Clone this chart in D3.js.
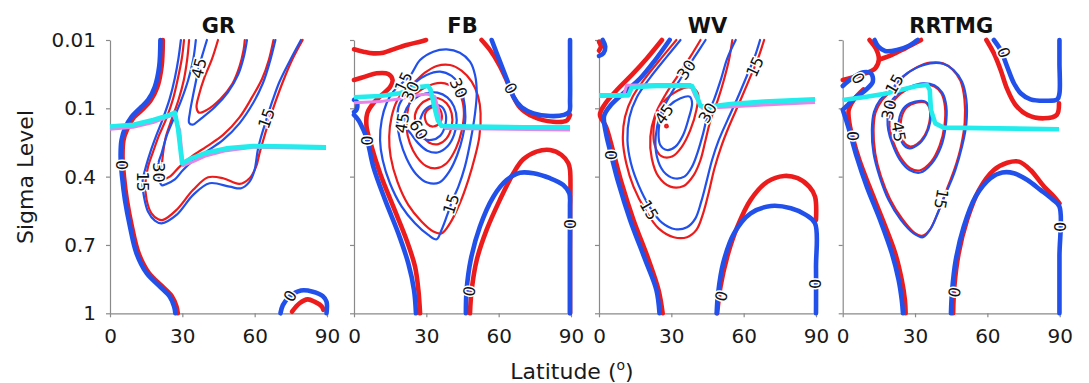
<!DOCTYPE html>
<html>
<head>
<meta charset="utf-8">
<script src="https://cdn.jsdelivr.net/npm/d3@7"></script>
<style>
  body { margin: 0; background: #fff; }
  svg text { font-family: "DejaVu Sans", Verdana, sans-serif; }
</style>
</head>
<body>
<svg id="chart" width="1089" height="383"></svg>
<script>
// Zonal-mean wind contours (m/s) on latitude / sigma, four radiation schemes.
// Run A = red contours + magenta tropopause, run B = blue contours + cyan tropopause.
const panelNames = ["GR", "FB", "WV", "RRTMG"];
const sigmaTicks = [0.01, 0.1, 0.4, 0.7, 1];
const latTicks = [0, 30, 60, 90];

// ---------- GR ----------
const grA0a = [[21.9,0.010],[21.4,0.045],[19.6,0.0724],[16.8,0.090],[13.5,0.105],[9.9,0.140],[7.2,0.190],[5.6,0.239],[5.2,0.312],[5.8,0.400],[7.0,0.502],[9.1,0.620],[11.9,0.737],[16.0,0.821],[21.5,0.880],[25.6,0.924],[27.6,0.971],[28.1,1.0]];
const grB0a = [[20.9,0.010],[20.4,0.045],[18.6,0.0715],[15.8,0.089],[12.4,0.100],[9.0,0.137],[6.2,0.188],[4.8,0.239],[4.4,0.312],[5.0,0.400],[6.2,0.502],[8.3,0.620],[11.0,0.737],[15.2,0.824],[20.7,0.883],[24.8,0.927],[26.6,0.971],[27.1,1.0]];
const grA0b = [[75.5,0.993],[78.6,0.956],[82.0,0.939],[84.8,0.949],[87.9,0.971],[88.5,0.985]];
const grB0b = [[70.7,1.0],[71.7,0.964],[74.4,0.927],[79.2,0.900],[84.1,0.905],[88.2,0.924],[89.8,0.949],[89.8,1.0]];
const grA15 = [[30.7,0.010],[29.8,0.034],[28.2,0.060],[26.2,0.087],[23.4,0.144],[20.4,0.217],[17.9,0.290],[15.8,0.356],[14.7,0.429],[15.2,0.502],[17.2,0.561],[20.0,0.587],[22.0,0.590],[27.6,0.546],[34.5,0.458],[40.7,0.403],[46.9,0.407],[53.7,0.432],[57.9,0.407],[60.6,0.356],[62.0,0.298],[63.4,0.246],[65.0,0.188],[66.8,0.129],[68.9,0.089],[71.7,0.065],[75.5,0.0364],[79.9,0.010]];
const grB15 = [[29.4,0.010],[28.4,0.034],[26.9,0.060],[24.8,0.087],[22.0,0.144],[19.3,0.217],[16.8,0.290],[14.9,0.356],[13.5,0.422],[14.1,0.488],[15.8,0.554],[18.6,0.593],[21.4,0.605],[27.6,0.568],[34.5,0.480],[41.3,0.429],[49.6,0.444],[54.4,0.451],[57.9,0.422],[59.9,0.373],[61.3,0.283],[62.7,0.224],[64.4,0.165],[65.9,0.115],[67.5,0.089],[70.3,0.065],[74.4,0.0385],[79.2,0.010]];
const grA30 = [[32.8,0.010],[32.0,0.036],[30.6,0.063],[28.4,0.089],[25.5,0.151],[23.2,0.224],[22.0,0.298],[21.5,0.356],[21.5,0.393],[22.3,0.409],[24.8,0.400],[28.9,0.356],[33.8,0.312],[40.0,0.268],[46.9,0.217],[53.7,0.140],[59.0,0.085],[63.1,0.061],[65.9,0.036],[67.8,0.010]];
const grB30 = [[35.6,0.010],[34.5,0.036],[32.4,0.063],[29.6,0.089],[26.2,0.151],[23.4,0.224],[21.4,0.298],[20.1,0.341],[20.4,0.415],[21.5,0.438],[23.4,0.432],[26.9,0.412],[30.3,0.371],[34.5,0.330],[40.0,0.290],[46.9,0.239],[53.7,0.166],[59.3,0.0934],[63.4,0.067],[66.1,0.041],[68.6,0.010]];
const grA45 = [[44.8,0.010],[42.2,0.036],[39.1,0.060],[36.9,0.0825],[35.9,0.0987],[36.9,0.119],[40.2,0.107],[45.7,0.088],[50.7,0.068],[53.7,0.045],[55.4,0.023],[55.9,0.010]];
const grB45 = [[40.2,0.010],[38.3,0.030],[36.8,0.047],[35.6,0.065],[34.2,0.087],[33.1,0.122],[32.8,0.163],[34.2,0.172],[37.9,0.144],[43.4,0.0987],[48.9,0.079],[53.1,0.056],[55.5,0.032],[56.8,0.010]];
const grTropA = [[0,0.192],[9.6,0.183],[17.9,0.163],[26.2,0.129],[28.9,0.195],[30.3,0.352],[34.5,0.334],[40.0,0.308],[48.2,0.286],[59.3,0.271],[89.6,0.277]];
const grTropB = [[0,0.180],[9.6,0.172],[17.9,0.151],[23.4,0.134],[26.9,0.119],[28.2,0.188],[29.9,0.341],[33.8,0.320],[40.0,0.295],[48.2,0.276],[59.3,0.266],[75.8,0.268],[89.6,0.271]];
const grLabels = [["0",5.0,0.349,90],["15",13.5,0.422,90],["30",20.3,0.382,90],["45",36.8,0.047,-75],["15",64.8,0.144,-70],["0",74.7,0.924,-60]];

// ---------- FB ----------
const fbA0a = [[0,0.0223],[3.9,0.0254],[8.0,0.0276],[12.2,0.0267],[16.3,0.0223],[21.8,0.0166],[27.4,0.0122],[29.9,0.010]];
const fbA0b = [[0,0.0627],[4.6,0.0583],[9.4,0.0539],[14.2,0.0548],[16.0,0.0627],[14.9,0.0723],[11.5,0.0824],[8.0,0.0934],[5.5,0.122],[5.2,0.180],[6.9,0.254],[10.8,0.385],[16.3,0.532],[21.8,0.678],[25.3,0.795],[26.7,0.898],[27.4,1.0]];
const fbA0c = [[52.9,0.010],[56.4,0.0232],[60.3,0.043],[63.3,0.063],[65.8,0.0825],[68.8,0.0987],[74.4,0.137],[82.6,0.159],[88.2,0.154],[89.6,0.129]];
const fbA0d = [[48.1,1.0],[48.8,0.898],[50.9,0.766],[55.0,0.634],[60.5,0.502],[66.1,0.385],[70.2,0.324],[75.7,0.290],[81.3,0.283],[86.1,0.305],[88.9,0.341],[89.6,0.371],[89.6,0.6],[89.6,1.0]];
const fbB0a = [[0,0.089],[1.1,0.0912],[1.4,0.098],[0.8,0.110],[0,0.116]];
const fbB0b = [[0,0.129],[1.8,0.151],[3.9,0.195],[5.5,0.239],[8.0,0.356],[12.9,0.502],[18.4,0.649],[22.5,0.780],[24.9,0.898],[25.7,1.0]];
const fbB0c = [[57.1,0.010],[59.2,0.0276],[61.9,0.0495],[64.0,0.067],[66.1,0.0846],[69.5,0.0987],[74.4,0.122],[81.3,0.134],[87.1,0.129],[89.3,0.115],[89.6,0.089],[89.6,0.04],[89.6,0.010]];
const fbB0d = [[46.4,1.0],[46.7,0.898],[48.4,0.766],[52.2,0.620],[57.8,0.488],[63.3,0.415],[68.8,0.383],[74.4,0.385],[81.3,0.407],[86.8,0.437],[89.3,0.473],[89.6,0.532],[89.6,0.75],[89.6,1.0]];
const fbA15 = [[25.3,0.0649],[29.4,0.053],[34.3,0.0442],[39.8,0.0429],[44.6,0.0504],[48.8,0.0649],[51.5,0.0846],[52.5,0.122],[52.0,0.224],[50.2,0.312],[47.4,0.415],[43.9,0.517],[39.8,0.605],[36.3,0.649],[32.9,0.641],[28.1,0.598],[22.5,0.524],[18.0,0.422],[15.2,0.312],[14.6,0.224],[15.6,0.137],[18.0,0.089],[21.6,0.0736]];
const fbB15 = [[19.8,0.0671],[23.5,0.0561],[27.4,0.0364],[32.9,0.0254],[38.4,0.0223],[43.9,0.0267],[48.1,0.0385],[50.2,0.0561],[50.9,0.0802],[50.2,0.122],[48.4,0.239],[46.0,0.356],[43.3,0.444],[40.9,0.502],[38.4,0.576],[36.3,0.634],[34.3,0.675],[30.8,0.656],[25.3,0.605],[19.8,0.532],[14.9,0.429],[11.9,0.327],[10.8,0.239],[11.5,0.151],[13.5,0.0934],[16.3,0.078]];
const fbA30 = [[23.9,0.0868],[28.1,0.0750],[32.9,0.0680],[37.7,0.0671],[41.9,0.0737],[44.6,0.0868],[45.6,0.122],[44.6,0.202],[42.3,0.276],[38.4,0.341],[34.3,0.363],[29.9,0.353],[26.0,0.312],[23.2,0.254],[21.8,0.188],[22.1,0.122]];
const fbB30 = [[21.8,0.0793],[25.3,0.0662],[30.1,0.0561],[35.7,0.0517],[40.5,0.0574],[43.4,0.068],[45.3,0.0846],[46.2,0.137],[45.1,0.224],[42.8,0.305],[39.5,0.378],[35.4,0.426],[30.4,0.426],[25.7,0.388],[21.8,0.320],[19.1,0.239],[18.0,0.166],[18.5,0.0978],[20.2,0.0868]];
const fbA45 = [[25.3,0.129],[27.4,0.0956],[30.8,0.0882],[35.0,0.0868],[38.4,0.0934],[40.5,0.122],[40.5,0.180],[38.4,0.232],[35.0,0.257],[31.2,0.251],[28.1,0.217],[26.0,0.178]];
const fbB45 = [[20.5,0.151],[21.8,0.100],[25.3,0.0868],[29.9,0.0802],[34.6,0.0793],[38.7,0.0855],[41.5,0.0978],[42.6,0.151],[41.5,0.217],[38.7,0.268],[34.6,0.294],[30.4,0.286],[26.7,0.254],[23.5,0.210],[21.1,0.178]];
const fbA60 = [[29.4,0.129],[31.5,0.100],[34.6,0.0987],[36.3,0.122],[35.7,0.163],[32.9,0.180],[30.4,0.169]];
const fbB60 = [[26.7,0.202],[27.4,0.151],[29.4,0.107],[32.9,0.0956],[36.3,0.0978],[38.1,0.129],[37.7,0.180],[35.7,0.221],[32.2,0.239],[28.7,0.232]];
const fbTropA = [[0,0.0926],[10.8,0.0912],[19.1,0.0873],[26.0,0.0829],[30.4,0.0811],[33.6,0.0846],[35.0,0.107],[35.9,0.169],[38.1,0.189],[56.4,0.191],[89.6,0.195]];
const fbTropB = [[0,0.0855],[10.8,0.0837],[19.1,0.0802],[26.0,0.0723],[30.8,0.0706],[31.8,0.0759],[33.3,0.0978],[34.7,0.151],[36.3,0.178],[49.5,0.180],[70.2,0.183],[89.6,0.183]];
const fbLabels = [["0",5.2,0.242,90],["0",65.0,0.0737,60],["0",47.8,0.903,-80],["0",89.6,0.608,90],["15",20.5,0.065,-65],["30",23.4,0.0776,-65],["45",19.9,0.164,-80],["60",26.8,0.194,60],["30",43.4,0.0733,65],["15",40.2,0.520,-72]];

// ---------- WV ----------
const wvA0a = [[0,0.0123],[0.8,0.0188],[0,0.0241]];
const wvB0a = [[1.5,0.010],[2.6,0.0188],[1.8,0.0276],[0,0.031]];
const wvA0b = [[26.1,0.010],[19.9,0.034],[13.6,0.056],[7.4,0.0759],[2.5,0.0943],[0.4,0.129],[2.9,0.180],[5.7,0.283],[9.4,0.429],[14.3,0.590],[20.6,0.766],[24.7,0.898],[26.4,1.0]];
const wvB0b = [[29.3,0.010],[23.3,0.0364],[17.1,0.0605],[10.1,0.0802],[4.6,0.0969],[2.1,0.134],[2.9,0.210],[4.9,0.298],[8.1,0.429],[12.9,0.590],[19.2,0.766],[23.8,0.898],[25.1,1.0]];
const wvA0c = [[49.0,1.0],[50.4,0.883],[53.2,0.751],[57.4,0.620],[62.9,0.502],[69.9,0.422],[76.8,0.397],[82.4,0.407],[87.2,0.444],[89.6,0.488],[90,0.590]];
const wvB0c = [[48.8,1.0],[49.4,0.912],[51.5,0.780],[56.0,0.649],[62.9,0.561],[71.3,0.529],[79.6,0.539],[85.8,0.568],[89.6,0.605],[90,0.8],[90,1.0]];
const wvA15 = [[32.1,0.010],[26.1,0.0329],[19.6,0.0584],[14.0,0.0846],[10.8,0.137],[9.9,0.239],[11.3,0.341],[14.3,0.444],[19.2,0.546],[24.7,0.627],[31.0,0.666],[36.5,0.666],[40.4,0.634],[43.2,0.561],[45.6,0.466],[47.9,0.363],[50.7,0.268],[53.9,0.180],[58.1,0.0934],[62.2,0.0628],[65.7,0.0364],[68.5,0.010]];
const wvB15 = [[33.8,0.010],[27.9,0.0329],[21.3,0.0592],[15.7,0.0855],[12.6,0.140],[11.8,0.239],[13.2,0.339],[16.4,0.437],[21.0,0.532],[26.1,0.602],[31.7,0.631],[36.5,0.622],[40.0,0.583],[42.4,0.510],[44.6,0.422],[46.9,0.327],[49.7,0.239],[53.2,0.154],[57.4,0.0868],[61.3,0.0574],[64.6,0.032],[66.8,0.010]];
const wvA30 = [[42.1,0.010],[37.9,0.032],[32.6,0.0575],[27.5,0.0824],[23.3,0.129],[21.3,0.224],[21.9,0.320],[24.7,0.400],[29.6,0.444],[35.1,0.441],[39.3,0.393],[42.1,0.327],[44.2,0.239],[46.3,0.151],[49.3,0.089],[51.8,0.0627],[53.9,0.0364],[55.3,0.010]];
const wvB30 = [[44.2,0.010],[39.3,0.034],[34.4,0.0584],[29.6,0.0824],[25.4,0.129],[23.5,0.224],[24.0,0.312],[26.8,0.378],[31.0,0.407],[35.4,0.400],[38.6,0.356],[41.0,0.290],[43.2,0.210],[45.1,0.129],[47.9,0.0868],[50.7,0.0605],[53.2,0.0342],[56.7,0.010]];
const wvA45 = [[22.6,0.195],[23.8,0.122],[27.5,0.089],[32.6,0.0768],[37.9,0.0724],[41.0,0.0802],[40.4,0.107],[37.9,0.195],[34.4,0.268],[30.3,0.312],[25.7,0.309],[23.1,0.261]];
const wvB45 = [[24.7,0.210],[25.7,0.144],[29.0,0.0970],[33.8,0.0868],[37.6,0.0846],[38.6,0.0934],[37.2,0.144],[34.9,0.217],[31.7,0.268],[28.2,0.283],[25.4,0.261]];
const wvA60 = [[27.5,0.175],[28.3,0.173],[28.5,0.182],[27.6,0.183]];
const wvTropA = [[0,0.0846],[10.1,0.0837],[11.5,0.0697],[24.0,0.0688],[37.9,0.0688],[40.0,0.0846],[42.8,0.100],[51.8,0.0987],[68.5,0.0956],[89.6,0.0925]];
const wvTropB = [[0,0.0830],[12.2,0.0830],[13.6,0.0723],[24.0,0.0706],[38.6,0.0706],[40.4,0.0825],[42.1,0.0969],[46.2,0.0978],[54.6,0.0943],[68.5,0.0912],[89.6,0.0882]];
const wvLabels = [["0",5.0,0.305,90],["0",50.7,0.924,-75],["0",89.6,0.871,90],["30",36.2,0.049,-55],["30",45.0,0.120,-60],["45",27.0,0.125,-55],["15",20.8,0.546,60],["15",64.6,0.045,-65]];

// ---------- RRTMG ----------
const rrA0a = [[11.1,0.010],[13.9,0.0223],[15.0,0.0355],[13.5,0.0473],[8.6,0.0548],[3.7,0.0596],[0,0.0627]];
const rrA0b = [[15.5,0.0355],[20.4,0.0297],[25.9,0.0210],[32.5,0.010]];
const rrA0c = [[8.6,0.0750],[4.7,0.0882],[2.5,0.107],[2.8,0.166],[4.4,0.239],[6.9,0.327],[11.1,0.444],[16.6,0.590],[21.8,0.737],[24.5,0.854],[25.8,0.942],[26.1,1.0]];
const rrA0d = [[59.6,0.010],[62.7,0.0276],[65.5,0.0495],[68.2,0.0745],[71.7,0.0956],[76.6,0.129],[83.5,0.144],[88.8,0.129],[89.7,0.0934]];
const rrA0e = [[45.8,1.0],[46.3,0.883],[48.1,0.737],[51.6,0.590],[56.5,0.459],[62.7,0.371],[68.2,0.339],[73.1,0.334],[77.9,0.371],[83.5,0.444],[87.7,0.488],[89.9,0.517]];
const rrB0a = [[13.2,0.010],[14.8,0.0188],[17.6,0.0245],[22.5,0.0232],[27.3,0.0179],[31.1,0.010]];
const rrB0b = [[0,0.0706],[4.4,0.0592],[8.6,0.0526],[11.7,0.054],[12.5,0.0649],[9.3,0.0767],[4.7,0.0873],[1.7,0.0969],[0,0.107]];
const rrB0c = [[0.3,0.115],[1.4,0.151],[3.1,0.210],[5.8,0.312],[10.0,0.444],[15.5,0.590],[20.4,0.737],[23.2,0.854],[24.5,0.942],[25.0,1.0]];
const rrB0d = [[62.7,0.010],[65.5,0.0232],[68.2,0.0451],[71.0,0.067],[73.8,0.0802],[77.9,0.0882],[83.5,0.090],[89.0,0.0882],[89.9,0.0802],[89.9,0.04],[89.9,0.010]];
const rrB0e = [[44.9,1.0],[45.4,0.898],[46.9,0.766],[50.2,0.620],[55.1,0.488],[61.3,0.407],[66.2,0.382],[71.0,0.385],[76.6,0.415],[82.1,0.459],[87.0,0.500],[89.9,0.532],[89.9,0.75],[89.9,1.0]];
const rrA15 = [[21.8,0.0723],[25.5,0.0574],[30.8,0.046],[36.3,0.0399],[41.6,0.0408],[45.5,0.0487],[48.8,0.0636],[50.5,0.0882],[50.6,0.163],[49.1,0.265],[46.5,0.363],[43.6,0.444],[41.3,0.510],[39.1,0.568],[36.1,0.634],[32.9,0.660],[29.7,0.646],[24.7,0.586],[19.7,0.500],[15.8,0.397],[13.5,0.298],[12.8,0.195],[13.6,0.119],[16.2,0.090],[19.0,0.0803]];
const rrB15 = [[20.4,0.075],[24.5,0.0592],[30.1,0.0474],[36.3,0.0408],[41.9,0.0416],[46.0,0.0495],[49.5,0.0649],[51.3,0.089],[51.3,0.166],[49.5,0.268],[46.7,0.371],[44.0,0.444],[41.6,0.502],[39.4,0.561],[36.3,0.631],[33.3,0.666],[29.4,0.649],[24.1,0.590],[19.0,0.502],[15.3,0.400],[12.8,0.298],[12.1,0.195],[13.0,0.115],[15.5,0.089],[18.0,0.081]];
const rrA30 = [[19.4,0.151],[20.5,0.0943],[23.9,0.0811],[28.6,0.0723],[33.6,0.0684],[37.9,0.0711],[40.9,0.0802],[42.4,0.0978],[42.2,0.177],[40.2,0.264],[36.6,0.336],[31.9,0.373],[28.0,0.363],[24.1,0.318],[21.1,0.251],[19.6,0.195]];
const rrB30 = [[18.6,0.151],[19.7,0.0934],[23.2,0.0802],[28.0,0.0715],[33.3,0.0671],[38.0,0.0697],[41.3,0.0794],[43.0,0.0978],[42.7,0.180],[40.8,0.268],[37.0,0.341],[32.2,0.382],[27.7,0.371],[23.6,0.324],[20.5,0.254],[18.9,0.195]];
const rrA45 = [[24.1,0.195],[24.4,0.140],[26.6,0.0987],[30.5,0.0925],[34.4,0.0925],[36.1,0.105],[35.9,0.163],[34.1,0.217],[30.8,0.257],[28.0,0.268],[25.5,0.251]];
const rrB45 = [[23.2,0.195],[23.6,0.137],[25.9,0.0978],[30.1,0.0912],[34.3,0.0912],[36.3,0.100],[36.3,0.159],[34.5,0.217],[31.1,0.261],[27.7,0.276],[25.0,0.257]];
const rrTropA = [[0,0.089],[8.6,0.0855],[16.9,0.0811],[25.2,0.075],[30.8,0.0706],[35.0,0.0693],[36.1,0.0759],[36.6,0.107],[38.4,0.166],[41.9,0.185],[50.2,0.186],[64.1,0.188],[89.7,0.192]];
const rrTropB = [[0,0.089],[8.6,0.0855],[16.9,0.0811],[25.2,0.075],[30.8,0.0706],[35.0,0.0693],[36.1,0.0759],[36.6,0.107],[38.4,0.166],[41.9,0.185],[50.2,0.186],[64.1,0.188],[89.7,0.192]];
const rrLabels = [["0",6.5,0.0605,60],["0",4.2,0.222,90],["0",66.9,0.0267,70],["0",46.3,0.907,-80],["0",89.9,0.62,90],["15",21.4,0.0682,-60],["30",19.1,0.107,-78],["45",23.2,0.203,80],["15",40.9,0.498,100]];

// Contour registry: panel index, run, contour level, closed ring?, points
const contours = [
  [0,"A",0,false,grA0a],[0,"A",0,false,grA0b],[0,"A",15,false,grA15],[0,"A",30,false,grA30],[0,"A",45,false,grA45],
  [0,"B",0,false,grB0a],[0,"B",0,false,grB0b],[0,"B",15,false,grB15],[0,"B",30,false,grB30],[0,"B",45,false,grB45],
  [1,"A",0,false,fbA0a],[1,"A",0,false,fbA0b],[1,"A",0,false,fbA0c],[1,"A",0,false,fbA0d],
  [1,"A",15,true,fbA15],[1,"A",30,true,fbA30],[1,"A",45,true,fbA45],[1,"A",60,true,fbA60],
  [1,"B",0,false,fbB0a],[1,"B",0,false,fbB0b],[1,"B",0,false,fbB0c],[1,"B",0,false,fbB0d],
  [1,"B",15,true,fbB15],[1,"B",30,true,fbB30],[1,"B",45,true,fbB45],[1,"B",60,true,fbB60],
  [2,"A",0,false,wvA0a],[2,"A",0,false,wvA0b],[2,"A",0,false,wvA0c],[2,"A",15,false,wvA15],[2,"A",30,false,wvA30],[2,"A",45,true,wvA45],[2,"A",60,true,wvA60],
  [2,"B",0,false,wvB0a],[2,"B",0,false,wvB0b],[2,"B",0,false,wvB0c],[2,"B",15,false,wvB15],[2,"B",30,false,wvB30],[2,"B",45,true,wvB45],
  [3,"A",0,false,rrA0a],[3,"A",0,false,rrA0b],[3,"A",0,false,rrA0c],[3,"A",0,false,rrA0d],[3,"A",0,false,rrA0e],
  [3,"A",15,true,rrA15],[3,"A",30,true,rrA30],[3,"A",45,true,rrA45],
  [3,"B",0,false,rrB0a],[3,"B",0,false,rrB0b],[3,"B",0,false,rrB0c],[3,"B",0,false,rrB0d],[3,"B",0,false,rrB0e],
  [3,"B",15,true,rrB15],[3,"B",30,true,rrB30],[3,"B",45,true,rrB45]
];
const tropopauses = [[0,"A",grTropA],[0,"B",grTropB],[1,"A",fbTropA],[1,"B",fbTropB],[2,"A",wvTropA],[2,"B",wvTropB],[3,"A",rrTropA],[3,"B",rrTropB]];
const contourLabels = [grLabels, fbLabels, wvLabels, rrLabels];

// ---------- drawing ----------
const svg = d3.select("#chart");
const panelLeft = [110, 354, 599, 842.7];
const panelW = 217;
const plotTop = 40, plotBottom = 313.3, yTenth = 108.3;
const runColor = { A: "#ec1c1c", B: "#2150ea" };
const tropColor = { A: "#e883e8", B: "#22ecec" };
const axisGrey = "#8a8a8a";

const y = d3.scaleLinear().domain([0.01, 0.1, 1]).range([plotTop, yTenth, plotBottom]);

panelNames.forEach((name, i) => {
  const x = d3.scaleLinear().domain([0, 90]).range([panelLeft[i], panelLeft[i] + panelW]);
  const g = svg.append("g");

  // axes
  const yAxis = d3.axisLeft(y).tickValues(sigmaTicks).tickSize(4).tickSizeOuter(0).tickPadding(10)
    .tickFormat(i === 0 ? (d => String(d)) : () => "");
  const ya = g.append("g").attr("transform", `translate(${panelLeft[i]},0)`).call(yAxis);
  const xAxis = d3.axisBottom(x).tickValues(latTicks).tickSize(4).tickSizeOuter(0).tickPadding(12)
    .tickFormat(d => String(d));
  const xa = g.append("g").attr("transform", `translate(0,${plotBottom})`).call(xAxis);
  [ya, xa].forEach(a => {
    a.select(".domain").attr("stroke", axisGrey).attr("stroke-width", 1.2);
    a.selectAll(".tick line").attr("stroke", axisGrey).attr("stroke-width", 1.2);
    a.selectAll(".tick text").attr("fill", "#1a1a1a").style("font-size", "20px")
      .style("font-family", "'DejaVu Sans', Verdana, sans-serif");
  });

  // panel title
  g.append("text").attr("x", panelLeft[i] + panelW / 2).attr("y", 33)
    .attr("text-anchor", "middle").style("font-size", "21px").style("font-weight", "bold")
    .attr("fill", "#111").text(name);

  const open = d3.line().x(d => x(d[0])).y(d => y(d[1])).curve(d3.curveCatmullRom.alpha(0.5));
  const ring = d3.line().x(d => x(d[0])).y(d => y(d[1])).curve(d3.curveCatmullRomClosed.alpha(0.5));
  const straight = d3.line().x(d => x(d[0])).y(d => y(d[1]));

  ["A", "B"].forEach(run => {
    contours.filter(c => c[0] === i && c[1] === run).forEach(c => {
      g.append("path").attr("d", (c[3] ? ring : open)(c[4]))
        .attr("fill", "none").attr("stroke", runColor[run])
        .attr("stroke-width", c[2] === 0 ? 4.6 : 2.2)
        .attr("stroke-linejoin", "round").attr("stroke-linecap", "round");
    });
  });

  tropopauses.filter(t => t[0] === i).forEach(t => {
    g.append("path").attr("d", straight(t[2])).attr("fill", "none")
      .attr("stroke", tropColor[t[1]]).attr("stroke-width", t[1] === "A" ? 3 : 4.6)
      .attr("stroke-linejoin", "round");
  });

  contourLabels[i].forEach(l => {
    g.append("text")
      .attr("transform", `translate(${x(l[1])},${y(l[2])}) rotate(${l[3]})`)
      .attr("text-anchor", "middle").attr("dy", "0.36em")
      .style("font-size", "16px").attr("fill", "#111")
      .attr("stroke", "#fff").attr("stroke-width", 3).attr("paint-order", "stroke")
      .text(l[0]);
  });
});

// shared axis titles
svg.append("text").attr("transform", "translate(33,177) rotate(-90)")
  .attr("text-anchor", "middle").style("font-size", "22px").attr("fill", "#1a1a1a")
  .text("Sigma Level");
const xt = svg.append("text").attr("x", 572).attr("y", 379).attr("text-anchor", "middle")
  .style("font-size", "22px").attr("fill", "#1a1a1a");
xt.append("tspan").text("Latitude (");
xt.append("tspan").attr("dy", -9).style("font-size", "14px").text("o");
xt.append("tspan").attr("dy", 9).text(")");
</script>
</body>
</html>
